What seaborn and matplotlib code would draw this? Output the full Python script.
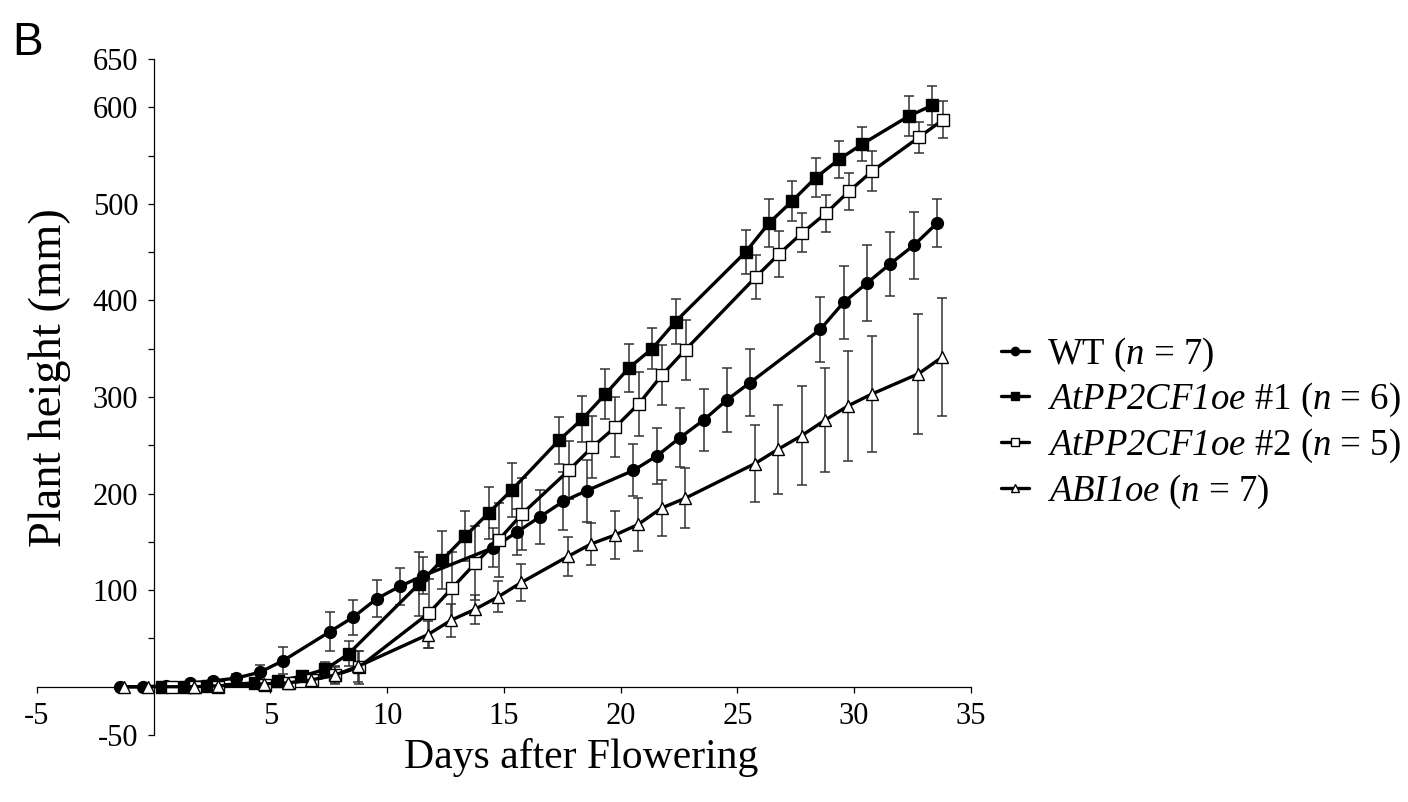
import numpy as np
import matplotlib
matplotlib.use("Agg")
import matplotlib.pyplot as plt
import seaborn as sns

# days after flowering (each line is slightly staggered on x in the original figure)
wt_day = [-1.45, -0.45, 0.55, 1.55, 2.55, 3.55, 4.55, 5.55, 7.55, 8.55, 9.55, 10.55, 11.55,
          14.55, 15.55, 16.55, 17.55, 18.55, 20.55, 21.55, 22.55, 23.55, 24.55, 25.55,
          28.55, 29.55, 30.55, 31.55, 32.55, 33.55]
wt_height = [0, 0, 1, 4, 6, 9, 15, 27, 57, 72, 91, 104, 115, 144, 160, 176, 192, 203,
             224, 239, 258, 276, 297, 315, 370, 398, 418, 438, 457, 480]
wt_sd = [0, 0, 1, 2, 3, 4, 8, 14, 20, 18, 19, 19, 19, 20, 24, 28, 30, 32, 27, 29, 31,
         32, 33, 35, 34, 38, 39, 33, 35, 25]

oe1_day = [0.35, 1.35, 2.35, 4.35, 5.35, 6.35, 7.35, 8.35, 11.35, 12.35, 13.35, 14.35,
           15.35, 17.35, 18.35, 19.35, 20.35, 21.35, 22.35, 25.35, 26.35, 27.35, 28.35,
           29.35, 30.35, 32.35, 33.35]
oe1_height = [0, 0, 1, 4, 6, 11, 18, 34, 106, 131, 156, 180, 204, 255, 277, 303, 330,
              350, 378, 450, 480, 503, 527, 546, 562, 591, 602]
oe1_sd = [0, 0, 1, 2, 3, 4, 8, 13, 33, 30, 26, 27, 28, 24, 24, 26, 25, 21, 23, 23, 25,
          21, 20, 19, 18, 21, 20]

oe2_day = [0.78, 1.78, 2.78, 4.78, 5.78, 6.78, 7.78, 8.78, 11.78, 12.78, 13.78, 14.78,
           15.78, 17.78, 18.78, 19.78, 20.78, 21.78, 22.78, 25.78, 26.78, 27.78, 28.78,
           29.78, 30.78, 32.78, 33.8]
oe2_height = [0, 0, 0, 2, 4, 7, 12, 20, 76, 102, 128, 152, 179, 224, 248, 269, 293, 323,
              349, 424, 448, 470, 490, 513, 534, 569, 587]
oe2_sd = [0, 0, 0, 1, 2, 4, 8, 17, 36, 38, 38, 38, 37, 30, 32, 31, 33, 31, 31, 23, 24,
          20, 19, 19, 21, 16, 19]

abi_day = [-1.25, -0.25, 1.75, 2.75, 4.75, 5.75, 6.75, 7.75, 8.75, 11.75, 12.75, 13.75,
           14.75, 15.75, 17.75, 18.75, 19.75, 20.75, 21.75, 22.75, 25.75, 26.75, 27.75,
           28.75, 29.75, 30.75, 32.75, 33.75]
abi_height = [0, 0, 0, 1, 3, 4, 7, 12, 21, 54, 69, 80, 93, 108, 135, 148, 157, 168, 185,
              195, 231, 246, 260, 276, 291, 303, 324, 341]
abi_sd = [0, 0, 0, 0, 1, 2, 3, 9, 16, 14, 17, 15, 16, 19, 20, 22, 25, 27, 29, 31, 40,
          46, 51, 54, 57, 60, 62, 61]

# \mathsf is mapped to the italic serif so that the digits in the line names are italic too
labels = [r"WT ($\mathsf{n}$ = 7)",
          r"$\mathsf{AtPP2CF1oe}$ #1 ($\mathsf{n}$ = 6)",
          r"$\mathsf{AtPP2CF1oe}$ #2 ($\mathsf{n}$ = 5)",
          r"$\mathsf{ABI1oe}$ ($\mathsf{n}$ = 7)"]

x_ticks = [-5, 5, 10, 15, 20, 25, 30, 35]
y_ticks = [-50, 50, 100, 150, 200, 250, 300, 350, 400, 450, 500, 550, 600, 650]
y_tick_labels = ["-50", "", "100", "", "200", "", "300", "", "400", "", "500", "", "600", "650"]

sns.set_style("ticks")
plt.rcParams["font.family"] = ["Liberation Serif", "DejaVu Serif"]
plt.rcParams["mathtext.fontset"] = "custom"
plt.rcParams["mathtext.rm"] = "Liberation Serif"
plt.rcParams["mathtext.it"] = "Liberation Serif:italic"
plt.rcParams["mathtext.sf"] = "Liberation Serif:italic"
plt.rcParams["text.color"] = "black"
plt.rcParams["axes.labelcolor"] = "black"

fig = plt.figure(figsize=(14.08, 8.02), dpi=100)
ax = fig.add_axes([0.0261, 0.0835, 0.6635, 0.843])

series = [
    (wt_day, wt_height, wt_sd, "o", "black", 8.5),
    (oe1_day, oe1_height, oe1_sd, "s", "black", 8),
    (oe2_day, oe2_height, oe2_sd, "s", "white", 8),
    (abi_day, abi_height, abi_sd, "^", "white", 9),
]

for i, (d, h, sd, mk, fc, ms) in enumerate(series):
    ax.errorbar(d, h, yerr=sd, fmt="none", ecolor="#333333", elinewidth=1.1,
                capsize=3.5, capthick=1.1, zorder=2 + i * 0.1)
    sns.lineplot(x=d, y=h, ax=ax, color="black", linewidth=2.4, marker=mk,
                 markersize=ms, markerfacecolor=fc, markeredgecolor="black",
                 markeredgewidth=1.0, label=labels[i], zorder=3 + i)

ax.set_xlim(-5, 35)
ax.set_ylim(-50, 650)
ax.spines["left"].set_position(("data", 0))
ax.spines["bottom"].set_position(("data", 0))
ax.spines["top"].set_visible(False)
ax.spines["right"].set_visible(False)
for s in ("left", "bottom"):
    ax.spines[s].set_linewidth(0.9)
    ax.spines[s].set_color("black")

ax.set_xticks(x_ticks)
ax.set_xticklabels([str(t) for t in x_ticks])
ax.set_yticks(y_ticks)
ax.set_yticklabels(y_tick_labels)
ax.tick_params(axis="both", direction="out", length=4, width=0.9, colors="black",
               labelsize=22)
ax.tick_params(axis="x", pad=7)
ax.tick_params(axis="y", pad=7)

ax.set_xlabel("Days after Flowering", fontsize=30, color="black")
ax.xaxis.set_label_coords(0.583, -0.005)
ax.set_ylabel("Plant height (mm)", fontsize=33.5, color="black")
ax.yaxis.set_label_coords(0.037, 0.529)

ax.legend(loc="center left", bbox_to_anchor=(0.711, 0.4726),
          bbox_transform=fig.transFigure, frameon=False, fontsize=26.5,
          borderpad=0, borderaxespad=0, handlelength=0.75, handletextpad=0.5,
          labelspacing=0.2, markerscale=0.7)

fig.text(0.0085, 0.931, "B", family=["Liberation Sans", "DejaVu Sans"], fontsize=33,
         va="baseline", ha="left", color="black")

fig.savefig("out.png", dpi=100)
